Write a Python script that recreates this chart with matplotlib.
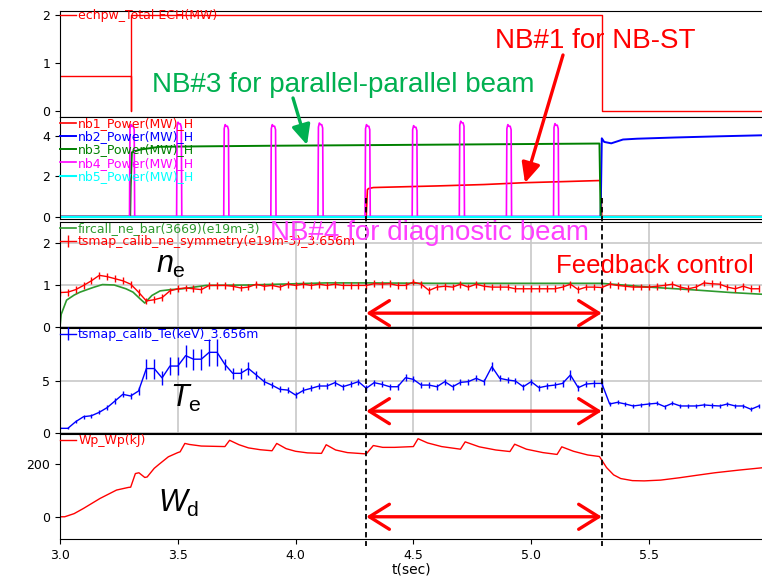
import numpy as np
import matplotlib
matplotlib.use("Agg")
import matplotlib.pyplot as plt
from matplotlib.lines import Line2D
from matplotlib.patches import FancyArrowPatch
import matplotlib.transforms as mtransforms

plt.rcParams['font.family'] = ['DejaVu Sans']
plt.rcParams['mathtext.fontset'] = 'custom'
plt.rcParams['mathtext.rm'] = 'Liberation Sans'
plt.rcParams['mathtext.it'] = 'Liberation Sans:italic'

# ---------------- data ----------------
# Panel 1: ECH power
ech_t = [3.0, 3.3, 3.3, 3.3, 5.3, 5.3, 5.98]
ech_v = [0.72, 0.72, 0.0, 2.0, 2.0, 0.0, 0.0]

# Panel 2: NBI powers
nb1_t = [3.0, 4.300, 4.305, 4.31, 4.33, 4.36, 4.6, 4.8, 4.97, 5.15, 5.295, 5.300, 5.98]
nb1_v = [0.0, 0.0, 1.35, 1.40, 1.45, 1.46, 1.53, 1.60, 1.69, 1.75, 1.80, 0.0, 0.0]
nb2_t = [3.0, 5.295, 5.300, 5.31, 5.34, 5.39, 5.45, 5.61, 5.80, 5.98]
nb2_v = [0.0, 0.0, 3.90, 3.72, 3.65, 3.84, 3.88, 3.94, 4.00, 4.05]
nb3_t = [3.0, 3.298, 3.300, 3.305, 3.34, 3.425, 3.6, 3.9, 4.3, 4.8, 5.29, 5.295, 5.98]
nb3_v = [0.0, 0.0, 1.5, 3.20, 3.34, 3.48, 3.50, 3.53, 3.56, 3.60, 3.64, 0.0, 0.0]
nb4_pulse_start = [3.295, 3.495, 3.695, 3.895, 4.095, 4.295, 4.495, 4.695, 4.895, 5.095]
nb4_pulse_height = [4.58, 4.70, 4.58, 4.58, 4.66, 4.58, 4.53, 4.75, 4.58, 4.63]
nb4_pulse_width = 0.022
nb5_t = [3.0, 5.98]
nb5_v = [0.0, 0.0]

# Panel 3: density
fir_t = [3.0, 3.005, 3.028, 3.06, 3.085, 3.14, 3.18, 3.23, 3.28, 3.31, 3.34, 3.36,
         3.39, 3.425, 3.47, 3.52, 3.62, 3.8, 4.0, 4.13, 4.3, 4.6, 4.9, 5.1, 5.3,
         5.5, 5.7, 5.85, 5.98]
fir_v = [0.0, 0.3, 0.64, 0.76, 0.83, 0.94, 1.01, 1.0, 0.91, 0.83, 0.67, 0.57,
         0.75, 0.86, 0.89, 0.91, 0.99, 1.0, 1.03, 1.05, 1.05, 1.04, 1.04, 1.04, 1.04,
         0.95, 0.88, 0.82, 0.78]

ts_t = 3.0 + np.arange(90) / 30.0
ts_ne = [0.82, 0.83, 0.89, 0.99, 1.10, 1.23, 1.20, 1.15, 1.10, 1.02,
         0.83, 0.62, 0.65, 0.70, 0.86, 0.91, 0.93, 0.91, 0.89, 0.99,
         0.99, 0.99, 0.97, 0.93, 0.95, 1.02, 0.97, 0.99, 0.95, 1.02,
         0.99, 1.02, 0.99, 1.02, 0.99, 1.02, 0.99, 0.99, 0.99, 0.99,
         1.03, 1.02, 1.03, 0.99, 0.99, 1.07, 1.02, 0.87, 0.95, 0.97,
         0.95, 1.02, 0.95, 1.02, 0.97, 0.95, 0.95, 0.95, 0.91, 0.91,
         0.91, 0.91, 0.91, 0.91, 0.95, 1.02, 0.89, 0.95, 0.95, 0.94,
         1.02, 0.99, 0.97, 0.95, 0.95, 0.95, 0.97, 0.99, 1.02, 0.95,
         0.91, 0.95, 1.05, 1.03, 1.02, 0.95, 0.91, 0.97, 0.91, 0.91]
ts_ne_err = [0.08] * 90

# Panel 4: Te
ts_te = [0.45, 0.45, 1.09, 1.57, 1.66, 1.99, 2.44, 3.08, 3.72, 3.56,
         4.04, 6.20, 6.20, 5.30, 6.44, 6.44, 7.44, 7.10, 7.10, 7.76,
         7.76, 6.60, 5.74, 5.74, 6.20, 5.58, 4.94, 4.60, 4.20, 4.13,
         3.65, 4.10, 4.30, 4.52, 4.52, 4.84, 4.45, 4.68, 4.94, 4.30,
         4.84, 4.68, 4.45, 4.45, 5.32, 5.16, 4.61, 4.61, 4.45, 4.94,
         4.45, 4.87, 4.94, 5.26, 4.94, 6.38, 5.26, 5.10, 5.00, 4.45,
         4.94, 4.36, 4.52, 4.61, 4.77, 5.58, 4.36, 4.71, 4.77, 4.77,
         2.79, 2.95, 2.79, 2.60, 2.70, 2.79, 2.86, 2.54, 2.86, 2.60,
         2.60, 2.60, 2.70, 2.64, 2.60, 2.79, 2.60, 2.60, 2.28, 2.60]
ts_te_err = [0.10, 0.10, 0.15, 0.20, 0.20, 0.20, 0.25, 0.30, 0.30, 0.30,
             0.40, 0.96, 0.96, 0.70, 0.90, 0.90, 1.05, 1.00, 1.00, 1.28,
             1.28, 0.55, 0.50, 0.50, 0.65, 0.40, 0.35, 0.30, 0.30, 0.30,
             0.30, 0.30, 0.30, 0.30, 0.30, 0.30, 0.30, 0.30, 0.30, 0.30,
             0.30, 0.30, 0.30, 0.30, 0.35, 0.30, 0.30, 0.30, 0.30, 0.30,
             0.30, 0.30, 0.30, 0.30, 0.30, 0.45, 0.30, 0.30, 0.30, 0.30,
             0.30, 0.30, 0.30, 0.30, 0.30, 0.45, 0.30, 0.30, 0.30, 0.30,
             0.20, 0.20, 0.20, 0.20, 0.20, 0.20, 0.20, 0.20, 0.20, 0.20,
             0.20, 0.20, 0.20, 0.20, 0.20, 0.20, 0.20, 0.20, 0.20, 0.20]

# Panel 5: stored energy
wp_t = [3.00, 3.02, 3.06, 3.10, 3.17, 3.24, 3.29, 3.30, 3.32, 3.335, 3.36, 3.37,
        3.40, 3.42, 3.46, 3.50, 3.51, 3.53, 3.55, 3.60, 3.70, 3.72, 3.76, 3.80,
        3.85, 3.90, 3.92, 3.96, 4.00, 4.05, 4.11, 4.13, 4.17, 4.22, 4.30, 4.33,
        4.37, 4.42, 4.50, 4.52, 4.56, 4.62, 4.70, 4.72, 4.78, 4.85, 4.91, 4.93,
        4.98, 5.05, 5.11, 5.13, 5.18, 5.24, 5.29, 5.32, 5.35, 5.38, 5.43, 5.48,
        5.55, 5.63, 5.70, 5.78, 5.88, 5.98]
wp_v = [0, 0, 12, 32, 70, 102, 112, 113, 165, 168, 150, 152,
        185, 200, 229, 245, 248, 280, 276, 270, 268, 292, 275, 263,
        256, 252, 280, 260, 250, 244, 242, 275, 255, 245, 240, 272,
        265, 265, 268, 298, 282, 268, 258, 286, 267, 255, 249, 277,
        258, 245, 238, 267, 250, 236, 230, 188, 160, 146, 138, 137,
        140, 149, 158, 168, 178, 187]

t_start, t_stop = 4.3, 5.3
xtick_vals = [3.0, 3.5, 4.0, 4.5, 5.0, 5.5]

# ---------------- layout ----------------
W, H = 762, 578
fig = plt.figure(figsize=(W / 100, H / 100), dpi=100)


def add_ax(top, bottom):
    return fig.add_axes([60 / W, 1 - bottom / H, (762 - 60) / W, (bottom - top) / H])


ax1 = add_ax(11, 116.5)
ax2 = add_ax(117, 218.5)
ax3 = add_ax(222, 327)
ax4 = add_ax(328, 433)
ax5 = add_ax(434, 539.3)
axes = [ax1, ax2, ax3, ax4, ax5]

LEG = dict(loc='upper left', bbox_to_anchor=(0, 1.0), frameon=False, fontsize=9,
           borderpad=0, borderaxespad=0, handlelength=1.3, handletextpad=0.15,
           labelspacing=0.02)


def legend(ax, colors, anchor=1.0):
    kw = dict(LEG)
    kw['bbox_to_anchor'] = (0, anchor)
    leg = ax.legend(**kw)
    for txt, c in zip(leg.get_texts(), colors):
        txt.set_color(c)


# Panel 1
ax1.plot(ech_t, ech_v, color='red', lw=1.0, label='echpw_Total ECH(MW)')
ax1.set_ylim(-0.125, 2.08)
ax1.set_yticks([0, 1, 2])
legend(ax1, ['red'], anchor=1.02)

# Panel 2
nb4_t, nb4_v = [3.0], [0.0]
for s, h in zip(nb4_pulse_start, nb4_pulse_height):
    w = nb4_pulse_width
    nb4_t += [s, s + 0.002, s + 0.006, s + w * 0.5, s + w - 0.006, s + w - 0.002, s + w]
    nb4_v += [0.0, h - 0.2, h, h - 0.08, h - 0.08, h - 0.25, 0.0]
nb4_t.append(5.98)
nb4_v.append(0.0)

ax2.plot(nb1_t, nb1_v, color='red', lw=1.2, label='nb1_Power(MW)_H')
ax2.plot(nb2_t, nb2_v, color='blue', lw=1.4, label='nb2_Power(MW)_H')
ax2.plot(nb3_t, nb3_v, color='green', lw=1.4, label='nb3_Power(MW)_H')
ax2.plot(nb4_t, nb4_v, color='magenta', lw=1.2, label='nb4_Power(MW)_H')
ax2.plot(nb5_t, nb5_v, color='cyan', lw=1.5, label='nb5_Power(MW)_H')
ax2.set_ylim(-0.09, 4.96)
ax2.set_yticks([0, 2, 4])
legend(ax2, ['red', 'blue', 'green', 'magenta', 'cyan'])

# Panel 3
fir_color = '#2e9a2e'
ax3.plot(fir_t, fir_v, color=fir_color, lw=1.2, label='fircall_ne_bar(3669)(e19m-3)')
ax3.errorbar(ts_t, ts_ne, yerr=ts_ne_err, color='red', lw=1.0, elinewidth=1.0,
             capsize=0, label='tsmap_calib_ne_symmetry(e19m-3)_3.656m')
ax3.set_ylim(0, 2.5)
ax3.set_yticks([0, 1, 2])
legend(ax3, [fir_color, 'red'])

# Panel 4
ax4.errorbar(ts_t, ts_te, yerr=ts_te_err, color='blue', lw=1.0, elinewidth=1.0,
             capsize=0, label='tsmap_calib_Te(keV)_3.656m')
ax4.set_ylim(0, 10.1)
ax4.set_yticks([0, 5])
legend(ax4, ['blue'])

# Panel 5
ax5.plot(wp_t, wp_v, color='red', lw=1.0, label='Wp_Wp(kJ)')
ax5.set_ylim(-86, 316)
ax5.set_yticks([0, 200])
legend(ax5, ['red'])

for ax in axes:
    ax.set_xlim(3.0, 5.98)
    ax.set_xticks(xtick_vals)
    ax.tick_params(labelsize=9)
    ax.spines['right'].set_visible(False)
for ax in axes[:-1]:
    ax.tick_params(axis='x', length=0, labelbottom=False)
for ax in (ax3, ax4):
    ax.set_axisbelow(True)
    ax.grid(True, color='#c8c8c8', lw=1.2)

ax5.set_xticklabels(['3.0', '3.5', '4.0', '4.5', '5.0', '5.5'])
ax5.set_xlabel('t(sec)', fontsize=10, labelpad=0)

# dashed vertical markers
blend = mtransforms.blended_transform_factory(ax5.transData, fig.transFigure)
for tv in (t_start, t_stop):
    fig.add_artist(Line2D([tv, tv], [1 - 198 / H, 1 - 546 / H], transform=blend,
                          color='black', lw=1.3, ls=(0, (3, 2)), zorder=5))

# double arrows
for ax, yv in ((ax3, 0.33), (ax4, 2.1), (ax5, 0.0)):
    ax.add_patch(FancyArrowPatch((t_start, yv), (t_stop, yv),
                                 arrowstyle='<->,head_length=0.72,head_width=0.45',
                                 mutation_scale=20, lw=2.4, color='red',
                                 shrinkA=0, shrinkB=0, zorder=6, clip_on=False))


def fx(x):
    return x / W


def fy(y):
    return 1 - y / H


ARIAL = 'Liberation Sans'
fig.text(fx(152), fy(92), 'NB#3 for parallel-parallel beam', color='#00B050',
         fontsize=20, family=ARIAL, va='baseline', ha='left', zorder=7)
fig.text(fx(495), fy(48), 'NB#1 for NB-ST', color='red',
         fontsize=20, family=ARIAL, va='baseline', ha='left', zorder=7)
fig.text(fx(270), fy(240), 'NB#4 for diagnostic beam', color='#FF40FF',
         fontsize=20, family=ARIAL, va='baseline', ha='left', zorder=7)
fig.text(fx(556), fy(273), 'Feedback control', color='red',
         fontsize=18.5, family=ARIAL, va='baseline', ha='left', zorder=7)

fig.text(fx(156), fy(273), r'$\mathit{n}_\mathrm{e}$', fontsize=22, va='baseline', zorder=7)
fig.text(fx(170), fy(407), r'$\mathit{T}_\mathrm{e}$', fontsize=22, va='baseline', zorder=7)
fig.text(fx(158), fy(512), r'$\mathit{W}_\mathrm{d}$', fontsize=22, va='baseline', zorder=7)

# pointer arrows
fig.add_artist(FancyArrowPatch((fx(293), fy(98)), (fx(307), fy(145)),
                               transform=fig.transFigure,
                               arrowstyle='-|>,head_length=0.6,head_width=0.28',
                               mutation_scale=20, lw=2.4, color='#00B050',
                               shrinkA=0, shrinkB=0, zorder=7))
fig.add_artist(FancyArrowPatch((fx(563), fy(55)), (fx(525), fy(183)),
                               transform=fig.transFigure,
                               arrowstyle='-|>,head_length=0.6,head_width=0.28',
                               mutation_scale=20, lw=2.4, color='red',
                               shrinkA=0, shrinkB=0, zorder=7))

fig.savefig('out.png', dpi=100)
